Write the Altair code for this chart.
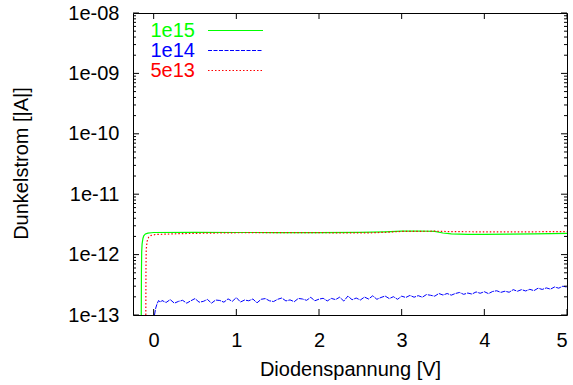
import altair as alt
import pandas as pd

# ---------------- data ----------------
green_x = [-0.150, -0.148, -0.145, -0.140, -0.130, -0.120, -0.100, -0.070, -0.030, 0.0,
           0.5, 1.0, 1.5, 2.0, 2.5, 2.8, 3.0, 3.2, 3.4, 3.5, 3.6, 3.8, 4.0, 4.3, 4.6, 5.0]
green_y = [1.0e-13, 5.0e-13, 1.1e-12, 1.5e-12, 1.85e-12, 2.05e-12, 2.2e-12, 2.27e-12, 2.3e-12, 2.32e-12,
           2.33e-12, 2.32e-12, 2.32e-12, 2.31e-12, 2.33e-12, 2.38e-12, 2.44e-12, 2.46e-12, 2.43e-12, 2.28e-12,
           2.20e-12, 2.17e-12, 2.17e-12, 2.19e-12, 2.21e-12, 2.24e-12]

red_x = [-0.095, -0.093, -0.090, -0.080, -0.060, -0.030, 0.020, 0.3, 0.6, 1.0, 1.5, 2.0, 2.3, 2.6,
         2.8, 3.0, 3.4, 3.6, 4.0, 4.5, 5.0]
red_y = [1.0e-13, 6.0e-13, 1.2e-12, 1.65e-12, 1.95e-12, 2.08e-12, 2.15e-12, 2.22e-12, 2.26e-12, 2.30e-12,
         2.31e-12, 2.31e-12, 2.28e-12, 2.29e-12, 2.34e-12, 2.42e-12, 2.44e-12, 2.40e-12, 2.38e-12, 2.38e-12,
         2.41e-12]

blue_x = [0.010, 0.025, 0.040, 0.060, 0.080,
          0.10, 0.15, 0.20, 0.25, 0.30, 0.35, 0.40, 0.45, 0.50, 0.55,
          0.60, 0.65, 0.70, 0.75, 0.80, 0.85, 0.90, 0.95, 1.00, 1.05,
          1.10, 1.15, 1.20, 1.25, 1.30, 1.35, 1.40, 1.45, 1.50, 1.55,
          1.60, 1.65, 1.70, 1.75, 1.80, 1.85, 1.90, 1.95, 2.00, 2.05,
          2.10, 2.15, 2.20, 2.25, 2.30, 2.35, 2.40, 2.45, 2.50, 2.55,
          2.60, 2.65, 2.70, 2.75, 2.80, 2.85, 2.90, 2.95, 3.00, 3.05,
          3.10, 3.15, 3.20, 3.25, 3.30, 3.35, 3.40, 3.45, 3.50, 3.55,
          3.60, 3.65, 3.70, 3.75, 3.80, 3.85, 3.90, 3.95, 4.00, 4.05,
          4.10, 4.15, 4.20, 4.25, 4.30, 4.35, 4.40, 4.45, 4.50, 4.55,
          4.60, 4.65, 4.70, 4.75, 4.80, 4.85, 4.90, 4.95, 5.00]
blue_y = [1.00e-13, 1.30e-13, 1.52e-13, 1.74e-13, 1.62e-13,
          1.74e-13, 1.61e-13, 1.80e-13, 1.57e-13, 1.68e-13, 1.75e-13, 1.57e-13, 1.72e-13, 1.87e-13, 1.63e-13,
          1.68e-13, 1.81e-13, 1.57e-13, 1.77e-13, 1.74e-13, 1.63e-13, 1.85e-13, 1.68e-13, 1.94e-13, 1.64e-13,
          1.77e-13, 1.72e-13, 1.84e-13, 1.59e-13, 1.82e-13, 1.87e-13, 1.72e-13, 1.67e-13, 1.82e-13, 1.91e-13,
          1.71e-13, 1.78e-13, 1.66e-13, 1.88e-13, 1.84e-13, 1.75e-13, 1.96e-13, 1.72e-13, 1.83e-13, 1.89e-13,
          1.71e-13, 1.88e-13, 1.80e-13, 1.97e-13, 1.70e-13, 2.06e-13, 1.79e-13, 1.91e-13, 1.77e-13, 1.98e-13,
          1.84e-13, 2.08e-13, 1.82e-13, 1.95e-13, 2.06e-13, 1.87e-13, 2.01e-13, 1.82e-13, 2.05e-13, 1.95e-13,
          2.11e-13, 1.97e-13, 2.09e-13, 1.97e-13, 2.18e-13, 2.12e-13, 2.05e-13, 2.27e-13, 2.14e-13, 2.27e-13,
          2.13e-13, 2.27e-13, 2.36e-13, 2.20e-13, 2.31e-13, 2.22e-13, 2.41e-13, 2.29e-13, 2.43e-13, 2.26e-13,
          2.45e-13, 2.52e-13, 2.37e-13, 2.48e-13, 2.38e-13, 2.63e-13, 2.47e-13, 2.63e-13, 2.50e-13, 2.66e-13,
          2.53e-13, 2.78e-13, 2.65e-13, 2.81e-13, 2.68e-13, 2.91e-13, 2.78e-13, 3.00e-13, 2.89e-13]

series_names = ["1e15", "1e14", "5e13"]
series_colors = ["#00ff00", "#0000ff", "#ff0000"]

x_ticks = [0, 1, 2, 3, 4, 5]
y_major = [1e-13, 1e-12, 1e-11, 1e-10, 1e-9, 1e-8]
y_minor = [m * d for d in [1e-13, 1e-12, 1e-11, 1e-10, 1e-9] for m in [2, 3, 4, 5, 6, 7, 8, 9]]

# ---------------- layout ----------------
W, H = 434, 302
FONT = "Liberation Sans"
FS = 20

xscale = alt.Scale(domain=[-0.25, 5], nice=False, zero=False)
yscale = alt.Scale(type="log", domain=[1e-13, 1e-8], nice=False)

df_g = pd.DataFrame({"x": green_x, "y": green_y})
df_b = pd.DataFrame({"x": blue_x, "y": blue_y})
df_r = pd.DataFrame({"x": red_x, "y": red_y})

xenc = alt.X("x:Q", scale=xscale,
             axis=alt.Axis(values=x_ticks, format="d", ticks=False, tickSize=0, domain=False, grid=False,
                           labelFont=FONT, labelFontSize=FS, labelColor="black", labelPadding=15,
                           title="Diodenspannung [V]", titleFont=FONT, titleFontSize=FS,
                           titleFontWeight="normal", titleColor="black",
                           titleX=W / 2, titleY=54, titleAlign="center", titleBaseline="middle"))
yenc = alt.Y("y:Q", scale=yscale,
             axis=alt.Axis(values=y_major, ticks=False, tickSize=0, domain=False, grid=False,
                           labelExpr="'1e-' + (round(-log(datum.value)/LN10) < 10 ? '0' : '') + round(-log(datum.value)/LN10)",
                           labelFont=FONT, labelFontSize=FS, labelColor="black", labelPadding=14,
                           title="Dunkelstrom [|A|]", titleFont=FONT, titleFontSize=FS,
                           titleFontWeight="normal", titleColor="black",
                           titleX=-112, titleY=H / 2 - 1, titleAngle=-90, titleAlign="center",
                           titleBaseline="middle"))

line_g = alt.Chart(df_g).mark_line(color=series_colors[0], strokeWidth=1.2, clip=True).encode(x=xenc, y=yenc)
line_b = alt.Chart(df_b).mark_line(color=series_colors[1], strokeWidth=1, strokeDash=[5, 1], clip=True).encode(x="x:Q", y="y:Q")
line_r = alt.Chart(df_r).mark_line(color=series_colors[2], strokeWidth=1.2, strokeDash=[1.5, 2], clip=True).encode(x="x:Q", y="y:Q")

# gnuplot-style key in the top-left corner
legend_layers = []
row_y = [17, 37, 57]
dashes = [None, [4, 1.5], [1.5, 2]]
for name, col, ry, dash in zip(series_names, series_colors, row_y, dashes):
    df_l = pd.DataFrame({"series": [name]})
    legend_layers.append(
        alt.Chart(df_l).mark_text(align="right", baseline="middle", font=FONT, fontSize=FS, fill=col)
        .encode(text="series:N", x=alt.value(62), y=alt.value(ry + 1))
    )
    rkw = dict(stroke=col, strokeWidth=1.2, opacity=1, strokeOpacity=1)
    if dash is not None:
        rkw["strokeDash"] = dash
    legend_layers.append(
        alt.Chart(df_l).mark_rule(**rkw)
        .encode(x=alt.value(75), x2=alt.value(130), y=alt.value(ry + 0.5))
    )

# inward ticks (gnuplot style, mirrored on all sides)
df_xt = pd.DataFrame({"x": x_ticks})
df_ymaj = pd.DataFrame({"y": y_major})
df_ymin = pd.DataFrame({"y": y_minor})

tick_style = dict(stroke="black", strokeWidth=1)
ticks = [
    alt.Chart(df_xt).mark_rule(**tick_style).encode(x="x:Q", y=alt.value(H - 6), y2=alt.value(H)),
    alt.Chart(df_xt).mark_rule(**tick_style).encode(x="x:Q", y=alt.value(0), y2=alt.value(6)),
    alt.Chart(df_ymaj).mark_rule(**tick_style).encode(y="y:Q", x=alt.value(0), x2=alt.value(6)),
    alt.Chart(df_ymaj).mark_rule(**tick_style).encode(y="y:Q", x=alt.value(W - 6), x2=alt.value(W)),
    alt.Chart(df_ymin).mark_rule(**tick_style).encode(y="y:Q", x=alt.value(0), x2=alt.value(3)),
    alt.Chart(df_ymin).mark_rule(**tick_style).encode(y="y:Q", x=alt.value(W - 3), x2=alt.value(W)),
]

chart = alt.layer(line_g, line_r, line_b, *legend_layers, *ticks).properties(
    width=W, height=H,
    autosize=alt.AutoSizeParams(type="none"),
    padding={"left": 133, "top": 13, "right": 6, "bottom": 70},
    background="white",
).configure_view(stroke="black", strokeWidth=1)

chart.save("out.html", embed_options={"renderer": "svg", "actions": False})
